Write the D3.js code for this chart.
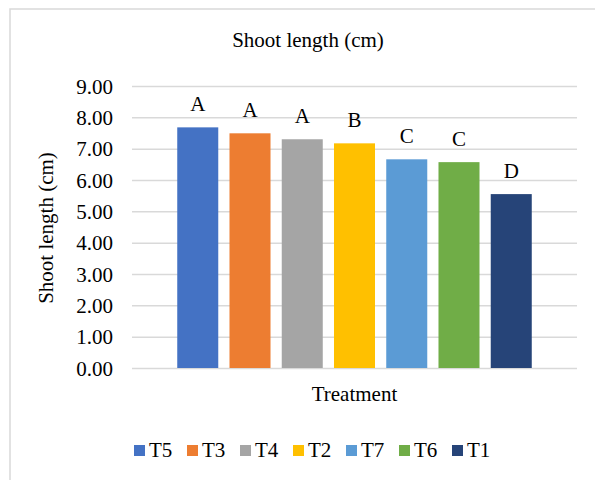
<!DOCTYPE html>
<html>
<head>
<meta charset="utf-8">
<script src="https://cdn.jsdelivr.net/npm/d3@7"></script>
<style>
  body { margin: 0; background: #fff; }
  text { font-family: "Liberation Serif", "Times New Roman", serif; fill: #000; }
</style>
</head>
<body>
<div id="chart"></div>
<script>
var treatments = ["T5", "T3", "T4", "T2", "T7", "T6", "T1"];
var shootLength = [7.68, 7.49, 7.30, 7.17, 6.66, 6.57, 5.55];
var groups = ["A", "A", "A", "B", "C", "C", "D"];
var colors = ["#4472C4", "#ED7D31", "#A5A5A5", "#FFC000", "#5B9BD5", "#70AD47", "#264478"];
var yTicks = [0, 1, 2, 3, 4, 5, 6, 7, 8, 9];

var data = treatments.map(function (t, i) {
    return { name: t, value: shootLength[i], group: groups[i], color: colors[i] };
});

var W = 595, H = 480;
var fs = "21px";
var margin = { top: 86, right: 18, bottom: 112, left: 132 },
    width = W - margin.left - margin.right,
    height = H - margin.top - margin.bottom;

var root = d3.select("#chart")
    .append("svg")
    .attr("width", W)
    .attr("height", H);

// outer frame (only left and top visible in the crop)
root.append("rect")
    .attr("x", 10)
    .attr("y", 9)
    .attr("width", W + 10)
    .attr("height", H + 10)
    .attr("fill", "none")
    .attr("stroke", "#d9d9d9")
    .attr("stroke-width", 1.5);

var svg = root.append("g")
    .attr("transform", "translate(" + margin.left + "," + margin.top + ")");

var y = d3.scaleLinear()
    .domain([0, 9])
    .range([height, 0]);

// all seven series sit in one category, like the Excel cluster
var x = d3.scaleBand()
    .domain(treatments)
    .range([0, width])
    .paddingInner(0.215)
    .paddingOuter(0.866);

// gridlines + labels
var yAxis = svg.append("g")
    .attr("font-family", null)
    .call(d3.axisLeft(y).tickValues(yTicks).tickSize(-width).tickFormat(d3.format(".2f")));
yAxis.select(".domain").remove();
yAxis.selectAll("line")
    .attr("stroke", "#d9d9d9")
    .attr("stroke-width", 1.5);
yAxis.selectAll("text")
    .attr("x", -19)
    .attr("dy", "0.34em")
    .style("font-size", fs)
    .style("font-family", "Liberation Serif");

// Bars
svg.selectAll(".bar")
    .data(data)
    .join("rect")
    .attr("class", "bar")
    .attr("x", d => x(d.name))
    .attr("y", d => y(d.value))
    .attr("width", x.bandwidth())
    .attr("height", d => height - y(d.value))
    .attr("fill", d => d.color);

// significance letters
svg.selectAll(".grp")
    .data(data)
    .join("text")
    .attr("class", "grp")
    .attr("x", d => x(d.name) + x.bandwidth() / 2)
    .attr("y", d => y(d.value) - 16)
    .attr("text-anchor", "middle")
    .style("font-size", fs)
    .text(d => d.group);

// titles
root.append("text")
    .attr("x", 308)
    .attr("y", 47)
    .attr("text-anchor", "middle")
    .style("font-size", fs)
    .text("Shoot length (cm)");

root.append("text")
    .attr("transform", "translate(53,228) rotate(-90)")
    .attr("text-anchor", "middle")
    .style("font-size", fs)
    .text("Shoot length (cm)");

root.append("text")
    .attr("x", margin.left + width / 2)
    .attr("y", 401)
    .attr("text-anchor", "middle")
    .style("font-size", fs)
    .text("Treatment");

// legend
var legend = root.append("g")
    .attr("transform", "translate(134,445)");
var item = legend.selectAll("g")
    .data(data)
    .join("g")
    .attr("transform", (d, i) => "translate(" + (i * 53) + ",0)");
item.append("rect")
    .attr("width", 11)
    .attr("height", 11)
    .attr("fill", d => d.color);
item.append("text")
    .attr("x", 15)
    .attr("y", 12)
    .style("font-size", fs)
    .text(d => d.name);
</script>
</body>
</html>
